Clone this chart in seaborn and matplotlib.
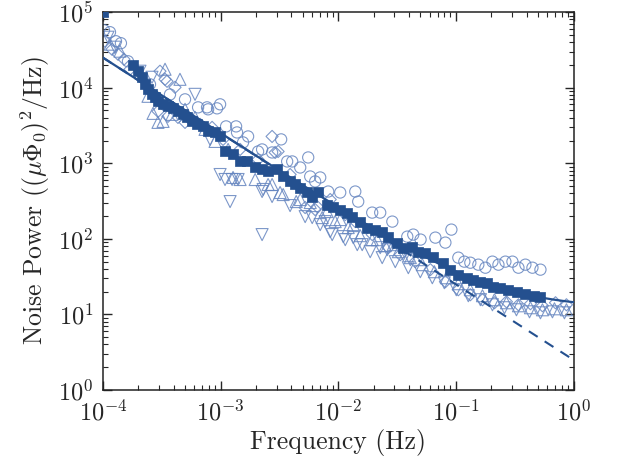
import numpy as np
import pandas as pd
import matplotlib
matplotlib.use("Agg")
import matplotlib.pyplot as plt
import seaborn as sns

# ---- data (log10 values) ----
sq_logf = [-4.000, -3.745, -3.702, -3.668, -3.643, -3.617, -3.583, -3.557, -3.532, -3.489,
           -3.447, -3.404, -3.362, -3.319, -3.285, -3.243, -3.200, -3.149, -3.106, -3.047,
           -3.004, -2.962, -2.894, -2.834, -2.774, -2.706, -2.647, -2.596, -2.519, -2.468,
           -2.409, -2.366, -2.323, -2.264, -2.221, -2.170, -2.094, -2.043, -1.983, -1.923,
           -1.881, -1.813, -1.753, -1.685, -1.626, -1.574, -1.498, -1.447, -1.370, -1.319,
           -1.260, -1.191, -1.106, -1.047, -0.979, -0.902, -0.851, -0.791, -0.732, -0.681,
           -0.621, -0.553, -0.477, -0.409, -0.340, -0.281]
sq_logp = [5.000, 4.297, 4.218, 4.138, 4.045, 3.979, 3.912, 3.873, 3.820, 3.780,
           3.753, 3.727, 3.687, 3.647, 3.607, 3.554, 3.515, 3.488, 3.422, 3.408,
           3.355, 3.156, 3.117, 3.024, 3.024, 2.944, 2.918, 2.891, 2.918, 2.825,
           2.759, 2.719, 2.679, 2.626, 2.560, 2.626, 2.454, 2.427, 2.387, 2.347,
           2.294, 2.228, 2.149, 2.122, 2.095, 2.029, 1.950, 1.883, 1.897, 1.830,
           1.817, 1.764, 1.684, 1.592, 1.525, 1.485, 1.459, 1.432, 1.419, 1.366,
           1.353, 1.326, 1.300, 1.273, 1.247, 1.233]

ci_logf = [-3.991, -3.940, -3.889, -3.847, -3.787, -3.600, -3.430, -3.302, -3.191, -3.115,
           -3.106, -3.030, -3.004, -2.953, -2.868, -2.860, -2.809, -2.766, -2.681, -2.647,
           -2.562, -2.485, -2.434, -2.391, -2.323, -2.255, -2.238, -2.196, -2.153, -2.085,
           -1.983, -1.855, -1.830, -1.711, -1.643, -1.540, -1.413, -1.362, -1.300, -1.174,
           -1.089, -1.038, -0.979, -0.928, -0.877, -0.809, -0.749, -0.689, -0.638, -0.579,
           -0.519, -0.468, -0.409, -0.349, -0.281]
ci_logp = [4.761, 4.735, 4.615, 4.589, 4.350, 4.045, 3.910, 3.846, 3.740, 3.740,
           3.714, 3.727, 3.780, 3.488, 3.488, 3.408, 3.276, 3.355, 3.156, 3.183,
           3.143, 3.316, 3.024, 3.024, 2.944, 3.077, 2.825, 2.759, 2.812, 2.626,
           2.613, 2.626, 2.493, 2.347, 2.347, 2.228, 2.029, 2.056, 1.990, 2.016,
           1.950, 2.122, 1.751, 1.698, 1.684, 1.658, 1.618, 1.698, 1.658, 1.698,
           1.698, 1.618, 1.658, 1.618, 1.592]

di_logf = [-3.983, -3.923, -3.872, -3.821, -3.770, -3.515, -3.472, -3.455, -3.387, -3.532,
           -3.447, -3.362, -3.302, -3.260, -3.174, -3.072, -2.979, -2.834, -2.681, -2.562,
           -2.536, -2.511, -2.409, -2.281, -2.179, -2.196, -2.068, -1.940, -1.855, -1.711,
           -1.574, -1.472, -1.345, -1.217, -1.089, -0.979, -0.877, -0.774, -0.672, -0.570,
           -0.468, -0.366, -0.264, -0.153, -0.060]
di_logp = [4.615, 4.509, 4.443, 4.377, 4.244, 4.218, 4.111, 4.085, 4.005, 3.687,
           3.621, 3.607, 3.541, 3.581, 3.515, 3.475, 3.316, 3.183, 3.050, 3.355,
           3.143, 3.156, 2.851, 2.414, 2.427, 2.387, 2.520, 2.321, 2.228, 2.056,
           1.883, 1.790, 1.698, 1.592, 1.432, 1.326, 1.260, 1.194, 1.154, 1.167,
           1.127, 1.141, 1.114, 1.154, 1.127]

tu_logf = [-3.940, -3.855, -3.617, -3.574, -3.532, -3.489, -3.472, -3.413, -3.345, -3.302,
           -3.217, -3.132, -3.047, -2.936, -2.894, -2.834, -2.706, -2.596, -2.562, -2.494,
           -2.468, -2.357, -2.323, -2.238, -2.136, -2.094, -2.026, -1.983, -1.915, -1.872,
           -1.813, -1.711, -1.668, -1.600, -1.532, -1.489, -1.387, -1.285, -1.183, -1.081,
           -0.979, -0.877, -0.774, -0.672, -0.570, -0.468, -0.366, -0.264, -0.162, -0.060]
tu_logp = [4.576, 4.483, 3.886, 3.660, 3.541, 3.554, 4.244, 3.647, 4.111, 3.714,
           3.607, 3.448, 3.289, 3.183, 2.812, 2.785, 2.785, 2.719, 2.719, 2.613,
           2.586, 2.493, 2.520, 2.480, 2.281, 2.361, 2.228, 2.255, 2.149, 2.188,
           2.042, 1.989, 1.989, 1.910, 1.923, 1.830, 1.751, 1.658, 1.565, 1.485,
           1.406, 1.326, 1.247, 1.194, 1.154, 1.114, 1.088, 1.061, 1.074, 1.061]

td_logf = [-3.957, -3.898, -3.685, -3.583, -3.217, -3.089, -3.004, -2.962, -2.919, -2.902,
           -2.851, -2.647, -2.638, -2.647, -2.562, -2.409, -2.281, -2.221, -2.153, -2.111,
           -2.068, -2.051, -1.957, -1.940, -1.872, -1.838, -1.796, -1.728, -1.643, -1.626,
           -1.583, -1.515, -1.447, -1.404, -1.387, -1.302, -1.200, -1.098, -0.996, -0.894,
           -0.791, -0.689, -0.587, -0.485, -0.374, -0.281, -0.179, -0.077]
td_logp = [4.668, 4.536, 4.218, 4.138, 3.912, 3.316, 2.851, 2.785, 2.493, 2.785,
           2.785, 2.626, 2.653, 2.056, 2.560, 2.440, 2.294, 2.281, 2.188, 2.228,
           2.095, 2.056, 2.029, 1.989, 2.016, 1.923, 1.923, 1.830, 1.883, 1.751,
           1.857, 1.698, 1.790, 1.618, 1.724, 1.565, 1.485, 1.419, 1.326, 1.247,
           1.194, 1.127, 1.088, 1.061, 1.034, 1.021, 1.034, 1.021]

# fit model: P(f) = amp / f**alpha + white
fit_amp = 2.5
fit_alpha = 1.0
fit_white = 12.0

# ---- style ----
sns.set_style("ticks")
plt.rcParams.update({
    "font.family": "serif",
    "font.serif": ["cmr10"],
    "mathtext.fontset": "cm",
    "axes.formatter.use_mathtext": True,
    "axes.unicode_minus": False,
    "xtick.direction": "in",
    "ytick.direction": "in",
    "xtick.top": True,
    "ytick.right": True,
    "axes.linewidth": 1.1,
    "axes.edgecolor": "#222222",
})

dark = "#24508f"
light = "#6686c0"

fig, ax = plt.subplots(figsize=(6.2, 4.67), dpi=100)
fig.subplots_adjust(left=0.166, right=0.925, bottom=0.165, top=0.974)

def df(lf, lp):
    return pd.DataFrame({"f": np.power(10.0, lf), "p": np.power(10.0, lp)})

hollow = [(ci_logf, ci_logp, "o", 65), (di_logf, di_logp, "D", 38),
          (tu_logf, tu_logp, "^", 75), (td_logf, td_logp, "v", 75)]
for lf, lp, m, s in hollow:
    sns.scatterplot(data=df(lf, lp), x="f", y="p", marker=m, s=s, ax=ax,
                    facecolors="none", edgecolor=light, linewidth=0.8,
                    alpha=0.85, zorder=2)

fgrid = np.logspace(-4, 0, 300)
lines = pd.DataFrame({"f": fgrid,
                      "fit": fit_amp / fgrid ** fit_alpha + fit_white,
                      "pl": fit_amp / fgrid ** fit_alpha})
sns.lineplot(data=lines, x="f", y="pl", ax=ax, color=dark, lw=1.5,
             linestyle=(0, (5, 4)), zorder=3)
sns.lineplot(data=lines, x="f", y="fit", ax=ax, color=dark, lw=1.6, zorder=3)

sns.scatterplot(data=df(sq_logf, sq_logp), x="f", y="p", marker="s", s=55,
                color=dark, edgecolor=dark, linewidth=0.5, ax=ax, zorder=4)

ax.set_xscale("log")
ax.set_yscale("log")
ax.set_xlim(1e-4, 1)
ax.set_ylim(1, 1e5)
ax.set_xlabel("Frequency (Hz)", fontsize=18.5, labelpad=3)
ax.set_ylabel(r"Noise Power $((\mu\Phi_0)^2/\mathrm{Hz})$", fontsize=18.5, labelpad=4)
ax.tick_params(which="major", length=6.5, width=1.0, labelsize=17.5, pad=7)
ax.tick_params(which="minor", length=3.5, width=0.8)
for sp in ax.spines.values():
    sp.set_visible(True)

fig.savefig("out.png", dpi=100)
